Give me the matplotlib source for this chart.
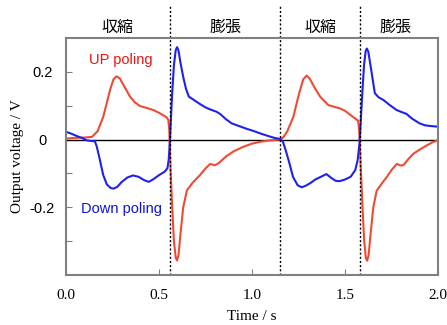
import matplotlib.pyplot as plt

# UP poling (red)
t_up = [0.00, 0.05, 0.10, 0.14, 0.17, 0.20, 0.237, 0.255, 0.272, 0.29, 0.31, 0.344, 0.37,
        0.398, 0.43, 0.47, 0.50, 0.54, 0.550, 0.555, 0.558, 0.562, 0.570, 0.580, 0.590, 0.597,
        0.605, 0.615, 0.630, 0.650, 0.68, 0.72, 0.75, 0.775, 0.80, 0.82, 0.86, 0.90, 0.95,
        1.00, 1.05, 1.10, 1.15, 1.17, 1.19, 1.222, 1.25, 1.275, 1.294, 1.31, 1.34, 1.366,
        1.41, 1.44, 1.473, 1.50, 1.545, 1.570, 1.576, 1.58, 1.585, 1.593, 1.603, 1.612, 1.619,
        1.627, 1.637, 1.652, 1.67, 1.70, 1.724, 1.75, 1.778, 1.80, 1.815, 1.84, 1.867, 1.90,
        1.94, 1.97, 2.00]
v_up = [0.003, 0.005, 0.006, 0.008, 0.025, 0.067, 0.147, 0.178, 0.187, 0.180, 0.160, 0.127, 0.110,
        0.099, 0.094, 0.087, 0.079, 0.066, 0.058, 0.03, -0.02, -0.09, -0.19, -0.30, -0.350, -0.357,
        -0.34, -0.28, -0.20, -0.150, -0.128, -0.105, -0.085, -0.072, -0.076, -0.070, -0.050, -0.035, -0.022,
        -0.012, -0.006, -0.002, 0.000, 0.008, 0.025, 0.067, 0.13, 0.178, 0.189, 0.180, 0.150, 0.127,
        0.102, 0.097, 0.092, 0.085, 0.066, 0.056, 0.03, -0.02, -0.09, -0.19, -0.30, -0.350, -0.358,
        -0.34, -0.28, -0.20, -0.151, -0.128, -0.111, -0.09, -0.072, -0.077, -0.075, -0.058, -0.042, -0.030,
        -0.017, -0.008, -0.002]

# Down poling (blue)
t_down = [0.00, 0.03, 0.06, 0.09, 0.11, 0.13, 0.155, 0.165, 0.18, 0.20, 0.22, 0.24, 0.255, 0.275,
          0.30, 0.33, 0.36, 0.39, 0.42, 0.445, 0.47, 0.50, 0.53, 0.545, 0.552, 0.558, 0.563, 0.570,
          0.580, 0.590, 0.597, 0.605, 0.615, 0.63, 0.645, 0.66, 0.69, 0.72, 0.75, 0.78, 0.81, 0.83,
          0.86, 0.89, 0.93, 0.97, 1.01, 1.05, 1.09, 1.12, 1.15, 1.165, 1.18, 1.20, 1.22, 1.245, 1.267,
          1.29, 1.315, 1.34, 1.37, 1.40, 1.425, 1.45, 1.47, 1.50, 1.53, 1.555, 1.568, 1.578, 1.584,
          1.592, 1.602, 1.611, 1.617, 1.625, 1.635, 1.648, 1.66, 1.68, 1.706, 1.74, 1.778, 1.81, 1.83,
          1.86, 1.90, 1.93, 1.96, 2.00]
v_down = [0.023, 0.017, 0.010, 0.004, -0.002, -0.004, -0.005, -0.02, -0.055, -0.105, -0.133, -0.143, -0.145, -0.140,
          -0.125, -0.112, -0.106, -0.110, -0.120, -0.125, -0.117, -0.105, -0.095, -0.085, -0.06, -0.01, 0.05, 0.13,
          0.22, 0.265, 0.273, 0.262, 0.228, 0.185, 0.150, 0.127, 0.116, 0.105, 0.095, 0.088, 0.082, 0.075,
          0.060, 0.048, 0.040, 0.032, 0.025, 0.017, 0.010, 0.005, 0.002, -0.005, -0.03, -0.068, -0.110, -0.135, -0.141,
          -0.136, -0.128, -0.118, -0.110, -0.102, -0.113, -0.122, -0.123, -0.118, -0.110, -0.090, -0.06, -0.01, 0.05,
          0.13, 0.22, 0.262, 0.269, 0.26, 0.225, 0.180, 0.137, 0.125, 0.117, 0.102, 0.087, 0.080, 0.076,
          0.062, 0.048, 0.042, 0.040, 0.038]

boundaries = [0.559, 1.15, 1.58]
phase_labels = ['収縮', '膨張', '収縮', '膨張']
phase_pos = [0.275, 0.855, 1.365, 1.77]

fig = plt.figure(figsize=(4.47, 3.25), dpi=100)
ax = fig.add_axes([0.1477, 0.154, 0.8323, 0.729])

ax.axhline(0, color='black', lw=1)
ax.plot(t_up, v_up, color='#f04a35', lw=1.5)
ax.plot(t_down, v_down, color='#2020f0', lw=1.5)

for b in boundaries:
    ax.axvline(b, ymin=0, ymax=1.139, color='black', lw=1, linestyle=(0, (1.5, 1.5)), clip_on=False)

for x, s in zip(phase_pos, phase_labels):
    ax.text(x, 1.046, s, transform=ax.get_xaxis_transform(), ha='center', va='center',
            fontsize=11.5, family=['Noto Sans CJK JP', 'DejaVu Sans'])

ax.text(0.125, 0.235, 'UP poling', color='#f01010', fontsize=10.5, family='Liberation Sans',
        ha='left', va='center')
ax.text(0.08, -0.205, 'Down poling', color='#1010e0', fontsize=10.5, family='Liberation Sans',
        ha='left', va='center')

ax.set_xlim(0, 2.0)
ax.set_ylim(-0.4, 0.3)
ax.set_xticks([0.0, 0.5, 1.0, 1.5, 2.0])
ax.set_xticklabels(['0.0', '0.5', '1.0', '1.5', '2.0'], family='Liberation Serif', fontsize=11)
ax.set_yticks([-0.3, -0.2, -0.1, 0, 0.1, 0.2])
ax.set_yticklabels(['', '-0.2', '', '0', '', '0.2'], family='Liberation Sans', fontsize=10.5)
for lab in ax.get_yticklabels():
    lab.set_horizontalalignment('center')
ax.tick_params(axis='y', direction='in', length=4, pad=17, color='#808080')
ax.tick_params(axis='x', direction='in', length=4, pad=10, color='#808080')

for sp in ax.spines.values():
    sp.set_color('#808080')
    sp.set_linewidth(1.5)

ax.set_xlabel('Time / s', family='Liberation Serif', fontsize=11, labelpad=6)
ax.set_ylabel('Output voltage / V', family='Liberation Serif', fontsize=11, labelpad=4)

fig.savefig('out.png', dpi=100)
